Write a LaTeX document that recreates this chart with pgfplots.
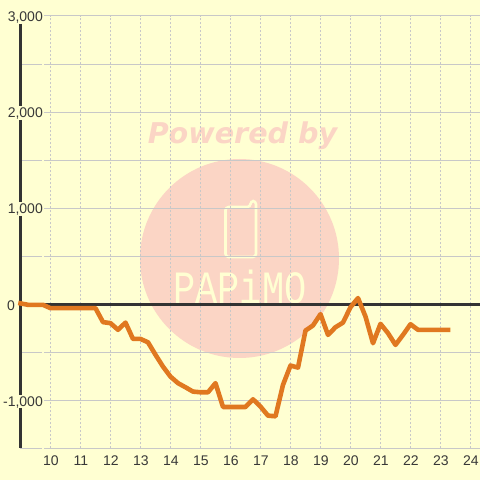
\documentclass[border=0pt]{standalone}
\usepackage{fontspec}
\setmainfont{Liberation Sans}
\newfontfamily\wmfont[BoldItalicFont={DejaVu Sans Bold Oblique}]{DejaVu Sans}
\newfontfamily\logofont{Liberation Mono}
\usepackage{pgfplots}
\pgfplotsset{compat=1.18}
\definecolor{bg}{HTML}{FFFFD2}
\definecolor{wm}{HTML}{FBD5C5}
\definecolor{gridc}{HTML}{C8C8C8}
\definecolor{axisc}{HTML}{333333}
\definecolor{txt}{HTML}{383838}
\definecolor{series}{HTML}{E07820}
\begin{document}
\begin{tikzpicture}[x=1pt,y=1pt]
\fill[bg] (-20.5,-31.5) rectangle (459.5,448.5);
\useasboundingbox (-20.5,-31.5) rectangle (459.5,448.5);
% watermark
\fill[wm] (219,190) circle[radius=99.5];
\node[anchor=base,text=wm,font=\fontsize{28.6}{28.6}\selectfont\wmfont\bfseries\itshape,inner sep=0pt] at (222,304.5) {Powered by};
\draw[bg,line width=2.6pt,line join=round,rounded corners=3.2pt] (205,241.5) -- (205,191.5) -- (235.5,191.5) -- (235.5,247.5) -- (230,247.5) -- (230,241.5) -- cycle;
\node[anchor=base,text=bg,inner sep=0pt,yscale=1.25,font=\fontsize{37}{37}\selectfont\logofont] at (219.5,145) {PAPiMO};
\begin{axis}[
  at={(0pt,0pt)},anchor=south west,
  scale only axis,width=459.5pt,height=432.5pt,
  xmin=9,xmax=24.3167,ymin=-1500,ymax=3000,
  axis line style={draw=none},
  tick style={draw=none},
  major tick length=0pt,
  xtick={10,...,24},
  ytick={-1500,-1000,-500,0,500,1000,1500,2000,2500,3000},
  yticklabels={,{-1{,}000},,,,{1{,}000},,{2{,}000},,{3{,}000}},
  extra y ticks={0},
  extra y tick labels={0},
  extra y tick style={grid=none,yticklabel style={fill=none,xshift=-28pt}},
  xmajorgrids,ymajorgrids,
  x grid style={gridc,line width=1pt,dash pattern=on 2pt off 2pt},
  y grid style={gridc,line width=1pt},
  tick label style={font=\fontsize{14}{14}\selectfont,text=txt},
  /pgf/number format/assume math mode=true,
  yticklabel style={anchor=east,xshift=23.5pt,yshift=-1pt,fill=bg,inner xsep=1pt,inner ysep=0pt,text height=11.7pt,text depth=2.3pt},
  xticklabel style={anchor=base,xshift=0.5pt,yshift=-17pt},
  clip=false,
]
\draw[axisc,line width=3.2pt] (axis cs:9,2918) -- (axis cs:9,2060);
\draw[axisc,line width=3.2pt] (axis cs:9,1920) -- (axis cs:9,1061);
\draw[axisc,line width=3.2pt] (axis cs:9,921) -- (axis cs:9,-942);
\draw[axisc,line width=3.2pt] (axis cs:9,-1077) -- (axis cs:9,-1500);
\draw[axisc,line width=3.2pt] (axis cs:9,0) -- (axis cs:24.3167,0);
\addplot[series,line width=4.6pt,line join=round,line cap=rect,no markers] coordinates {
(9,10)(9.25,-5)(9.5,-5)(9.75,-5)(10,-40)(10.25,-40)(10.5,-40)(10.75,-40)(11,-40)(11.25,-40)(11.5,-40)
(11.75,-185)(12,-196)(12.25,-265)(12.5,-190)(12.75,-360)(13,-360)(13.25,-395)(13.5,-525)(13.75,-648)
(14,-752)(14.25,-820)(14.5,-863)(14.75,-908)(15,-915)(15.25,-915)(15.5,-820)(15.75,-1068)(16,-1068)
(16.25,-1068)(16.5,-1068)(16.75,-988)(17,-1064)(17.25,-1158)(17.5,-1165)(17.75,-838)(18,-637)(18.25,-658)
(18.5,-273)(18.75,-220)(19,-102)(19.25,-318)(19.5,-238)(19.75,-190)(20,-30)(20.25,65)(20.5,-127)
(20.75,-405)(21,-203)(21.25,-300)(21.5,-422)(21.75,-318)(22,-207)(22.25,-265)(22.5,-265)(22.75,-265)
(23,-265)(23.25,-265)
};
\end{axis}
\end{tikzpicture}
\end{document}
